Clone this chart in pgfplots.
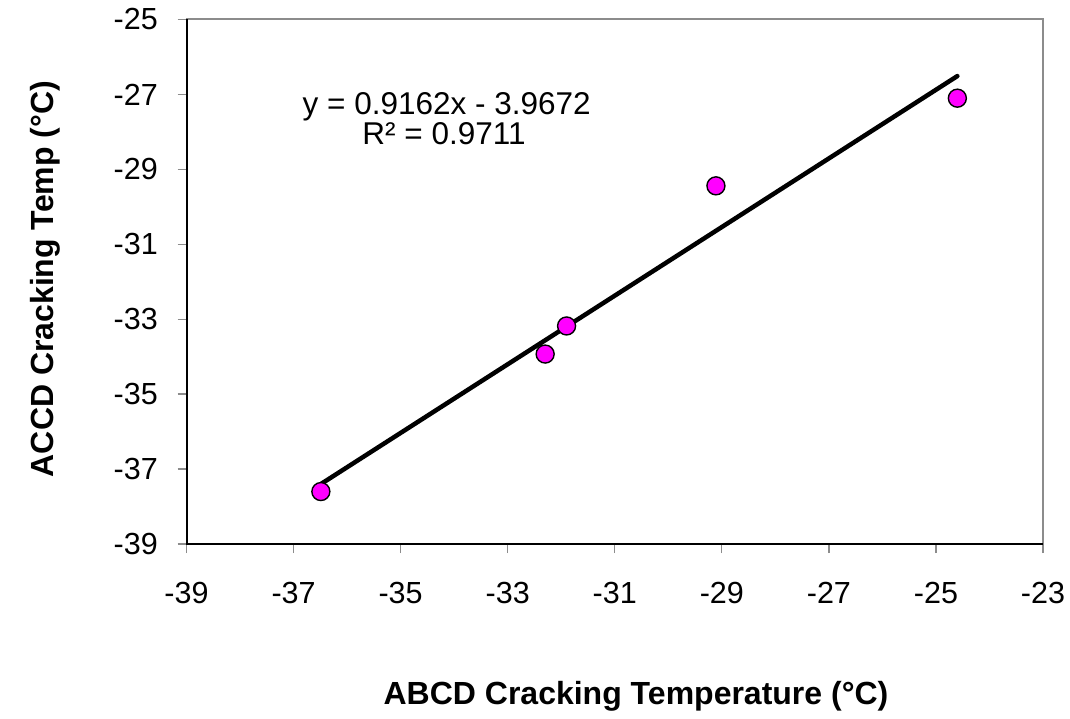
\documentclass[border=0pt]{standalone}
\usepackage{fontspec}
\setmainfont{Liberation Sans}
\usepackage{pgfplots}
\pgfplotsset{compat=1.18}
\definecolor{ptfill}{HTML}{FF00FF}
\definecolor{framegray}{HTML}{8C8C8C}
\begin{document}
\begin{tikzpicture}[x=1pt,y=1pt]
\useasboundingbox (0,0) rectangle (1070,718);
\begin{axis}[
  at={(186.5pt,174pt)}, anchor=south west,
  scale only axis, width=856.5pt, height=524.5pt,
  xmin=-39, xmax=-23, ymin=-39, ymax=-25,
  xtick={-39,-37,-35,-33,-31,-29,-27,-25,-23},
  ytick={-39,-37,-35,-33,-31,-29,-27,-25},
  xticklabels={-39,-37,-35,-33,-31,-29,-27,-25,-23},
  yticklabels={-39,-37,-35,-33,-31,-29,-27,-25},
  xtick pos=bottom, ytick pos=left,
  tick align=outside, major tick length=9pt,
  tick style={framegray, line width=1.3pt},
  axis line style={framegray, line width=2pt},
  ticklabel style={font=\fontsize{30.5pt}{36pt}\selectfont, inner sep=0pt},
  xticklabel style={anchor=base, yshift=-50pt},
  yticklabel style={anchor=east, xshift=-19.5pt},
  clip=false,
]
\addplot[only marks, mark=*, mark size=9pt, mark options={fill=ptfill, draw=black, line width=1.4pt}]
  coordinates {(-36.49,-37.60) (-32.30,-33.93) (-31.90,-33.18) (-29.11,-29.44) (-24.60,-27.10)};
\addplot[black, line width=4.5pt, line cap=round]
  coordinates {(-36.49,-37.40) (-24.60,-26.51)};
\draw[black, line width=2pt] (rel axis cs:0,1) -- (rel axis cs:0,0) -- (rel axis cs:1,0);
\end{axis}
\node[anchor=base, inner sep=0pt, font=\fontsize{31.5pt}{36pt}\selectfont] at (446.7,603) {y = 0.9162x - 3.9672};
\node[anchor=base, inner sep=0pt, font=\fontsize{31.5pt}{36pt}\selectfont] at (444,573) {R² = 0.9711};
\node[anchor=base, inner sep=0pt, font=\fontsize{32pt}{36pt}\selectfont\bfseries] at (636,14) {ABCD Cracking Temperature (°C)};
\node[anchor=base, rotate=90, inner sep=0pt, font=\fontsize{32pt}{36pt}\selectfont\bfseries] at (53,439) {ACCD Cracking Temp (°C)};
\end{tikzpicture}
\end{document}
